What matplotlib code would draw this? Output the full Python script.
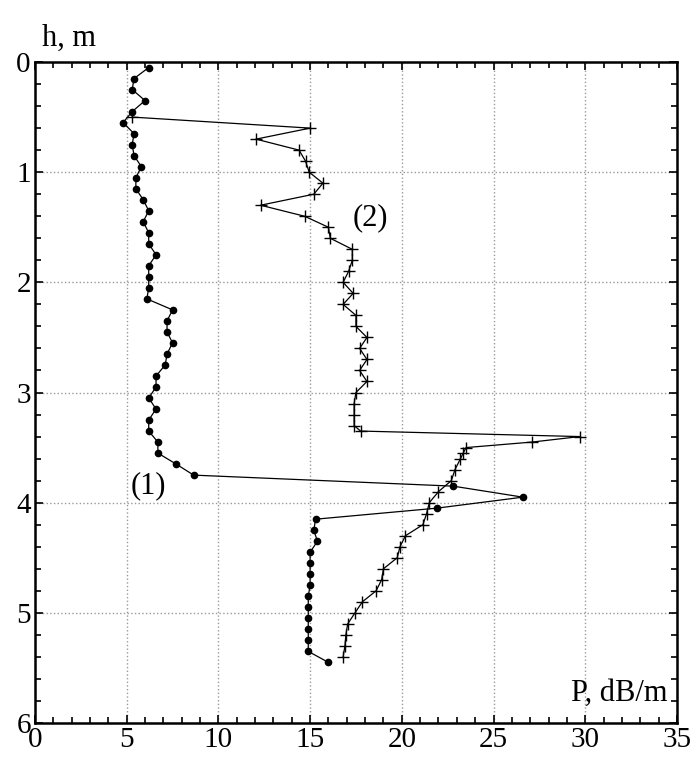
import matplotlib
matplotlib.use("Agg")
import matplotlib.pyplot as plt
from matplotlib.ticker import MultipleLocator

plt.rcParams["font.family"] = ["Liberation Serif", "DejaVu Serif"]

# Curve (1): dots, depth h (m) and attenuation P (dB/m)
h1 = [0.05, 0.15, 0.25, 0.35, 0.45, 0.55, 0.65, 0.75, 0.85, 0.95,
      1.05, 1.15, 1.25, 1.35, 1.45, 1.55, 1.65, 1.75, 1.85, 1.95,
      2.05, 2.15, 2.25, 2.35, 2.45, 2.55, 2.65, 2.75, 2.85, 2.95,
      3.05, 3.15, 3.25, 3.35, 3.45, 3.55, 3.65, 3.75, 3.85, 3.95,
      4.05, 4.15, 4.25, 4.35, 4.45, 4.55, 4.65, 4.75, 4.85, 4.95,
      5.05, 5.15, 5.25, 5.35, 5.45]
p1 = [6.2, 5.4, 5.3, 6.0, 5.3, 4.8, 5.4, 5.3, 5.4, 5.8,
      5.5, 5.5, 5.9, 6.2, 5.9, 6.2, 6.2, 6.6, 6.2, 6.2,
      6.2, 6.1, 7.5, 7.2, 7.2, 7.5, 7.2, 7.1, 6.6, 6.6,
      6.2, 6.6, 6.2, 6.2, 6.7, 6.7, 7.7, 8.65, 22.8, 26.6,
      21.9, 15.3, 15.2, 15.4, 15.0, 15.0, 15.0, 15.0, 14.9, 14.9,
      14.9, 14.9, 14.9, 14.9, 16.0]

# Curve (2): crosses
h2 = [0.5, 0.6, 0.7, 0.8, 0.9, 1.0, 1.1, 1.2, 1.3, 1.4,
      1.5, 1.6, 1.7, 1.8, 1.9, 2.0, 2.1, 2.2, 2.3, 2.4,
      2.5, 2.6, 2.7, 2.8, 2.9, 3.0, 3.1, 3.2, 3.3, 3.35,
      3.4, 3.45, 3.5, 3.55, 3.6, 3.7, 3.8, 3.9, 4.0, 4.1,
      4.2, 4.3, 4.4, 4.5, 4.6, 4.7, 4.8, 4.9, 5.0, 5.1,
      5.2, 5.3, 5.4]
p2 = [5.3, 15.0, 12.05, 14.4, 14.75, 14.95, 15.7, 15.2, 12.3, 14.7,
      16.0, 16.1, 17.3, 17.3, 17.1, 16.8, 17.35, 16.8, 17.5, 17.5,
      18.1, 17.7, 18.1, 17.7, 18.1, 17.5, 17.4, 17.4, 17.4, 17.75,
      29.7, 27.1, 23.5, 23.35, 23.2, 22.9, 22.7, 22.0, 21.5, 21.35,
      21.15, 20.2, 19.9, 19.75, 19.0, 18.9, 18.6, 17.85, 17.45, 17.05,
      16.95, 16.9, 16.8]

fig = plt.figure(figsize=(7, 7.6), dpi=100)
ax = fig.add_axes([0.05, 0.0487, 0.917, 0.8697])

ax.plot(p1, h1, color="black", lw=0.9, marker="o", ms=4.5, zorder=3)
ax.plot(p2, h2, color="black", lw=0.9, marker="+", ms=8, mew=1.0, zorder=3)

ax.set_xlim(0, 35)
ax.set_ylim(6, 0)
ax.xaxis.set_major_locator(MultipleLocator(5))
ax.xaxis.set_minor_locator(MultipleLocator(1))
ax.yaxis.set_major_locator(MultipleLocator(1))
ax.yaxis.set_minor_locator(MultipleLocator(0.2))

ax.grid(True, which="major", color="#999999", linestyle=":", linewidth=1.0)
ax.tick_params(which="both", direction="in", top=True, right=True,
               labelsize=21, width=1.2)
ax.tick_params(which="major", length=6)
ax.tick_params(which="minor", length=4)
ax.tick_params(axis="x", pad=3)
ax.tick_params(axis="y", pad=3)
for s in ax.spines.values():
    s.set_linewidth(1.8)

# curve labels and axis captions
ax.text(6.2, 3.85, "(1)", fontsize=22, ha="center", va="center")
ax.text(18.3, 1.41, "(2)", fontsize=22, ha="center", va="center")
ax.text(34.5, 5.8, "P, dB/m", fontsize=22, ha="right", va="baseline")
fig.text(0.06, 0.94, "h, m", fontsize=22, ha="left", va="baseline")

fig.savefig("out.png", dpi=100)
